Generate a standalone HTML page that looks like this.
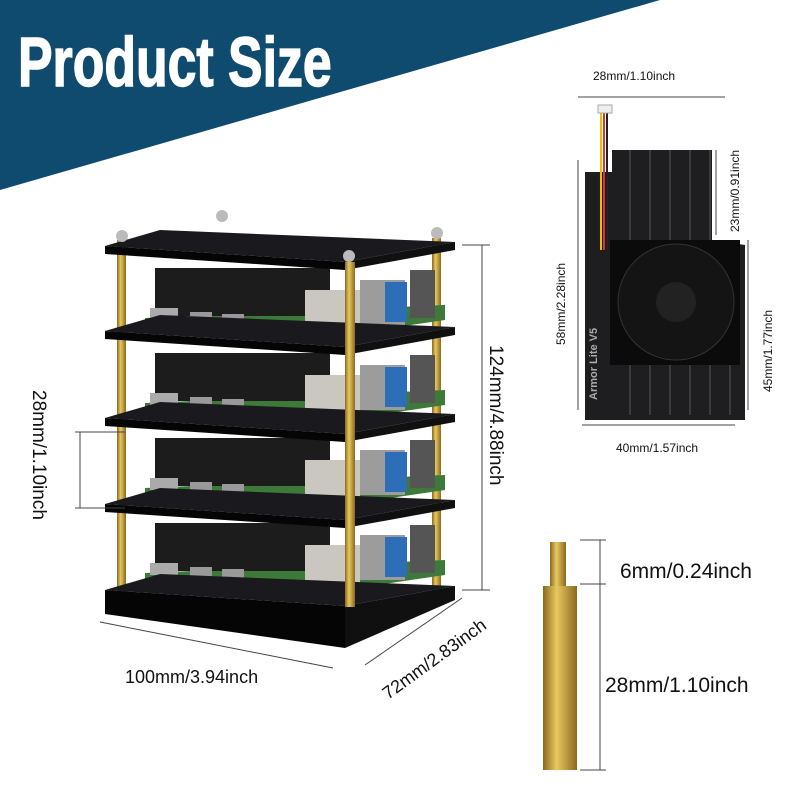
<!DOCTYPE html>
<html><head><meta charset="utf-8"><style>
html,body{margin:0;padding:0;background:#fff;}
svg{display:block;}
text{font-family:"Liberation Sans",sans-serif;}
</style></head><body>
<svg width="800" height="800" viewBox="0 0 800 800" xmlns="http://www.w3.org/2000/svg">
<defs>
<linearGradient id="brass" x1="0" x2="1"><stop offset="0" stop-color="#8a6a1c"/><stop offset="0.4" stop-color="#e8c860"/><stop offset="1" stop-color="#8a6a1c"/></linearGradient>
<g id="plate">
<polygon points="105,246 160,230 455,242 345,262" fill="#1a1a1e"/>
<polygon points="105,246 345,262 345,270 105,254" fill="#050505"/>
<polygon points="345,262 455,242 455,250 345,270" fill="#101010"/>
</g>
<g id="board">
<polygon points="145,318 445,305 445,320 350,334 145,326" fill="#3d7a3a"/>
<rect x="155" y="268" width="175" height="48" fill="#1c1c1c"/>
<rect x="305" y="290" width="55" height="40" fill="#c9c7bf"/>
<rect x="360" y="280" width="45" height="45" fill="#9c9c9c"/>
<rect x="385" y="282" width="22" height="40" fill="#2e6db8"/>
<rect x="410" y="270" width="25" height="48" fill="#555"/>
<rect x="150" y="308" width="28" height="12" fill="#aaa"/>
<rect x="190" y="312" width="22" height="10" fill="#999"/>
<rect x="222" y="314" width="22" height="10" fill="#999"/>
</g>
</defs>
<polygon points="0,0 660,0 0,190" fill="#0f4b6f"/>
<text x="18" y="86" font-size="70" font-weight="bold" fill="#fff" stroke="#fff" stroke-width="1.5" transform="translate(18,0) scale(0.74,1) translate(-18,0)">Product Size</text>

<rect x="117" y="240" width="9" height="355" fill="url(#brass)"/>
<rect x="432" y="238" width="9" height="355" fill="url(#brass)"/>
<use href="#board"/>
<use href="#board" transform="translate(0,85)"/>
<use href="#board" transform="translate(0,170)"/>
<use href="#board" transform="translate(0,255)"/>
<use href="#plate"/>
<use href="#plate" transform="translate(0,85)"/>
<use href="#plate" transform="translate(0,172)"/>
<use href="#plate" transform="translate(0,258)"/>
<polygon points="105,590 160,574 455,586 345,606" fill="#1a1a1e"/>
<polygon points="105,590 345,606 345,648 105,614" fill="#050505"/>
<polygon points="345,606 455,586 455,600 345,648" fill="#101010"/>
<rect x="345" y="262" width="10" height="345" fill="url(#brass)"/>
<circle cx="122" cy="236" r="6" fill="#bbb"/><circle cx="437" cy="233" r="6" fill="#bbb"/>
<circle cx="349" cy="256" r="6" fill="#bbb"/><circle cx="222" cy="216" r="6" fill="#bbb"/>

<g stroke="#444" stroke-width="1" fill="none">
<line x1="462" y1="245" x2="490" y2="245"/><line x1="462" y1="590" x2="490" y2="590"/><line x1="482" y1="245" x2="482" y2="590"/>
<line x1="75" y1="432" x2="125" y2="432"/><line x1="75" y1="508" x2="125" y2="508"/><line x1="80" y1="432" x2="80" y2="508"/>
<line x1="100" y1="622" x2="333" y2="668"/><line x1="365" y1="665" x2="462" y2="598"/>
<line x1="578" y1="97" x2="725" y2="97"/>
<line x1="582" y1="425" x2="735" y2="425"/>
<line x1="716" y1="150" x2="716" y2="235"/><line x1="578" y1="160" x2="578" y2="410"/><line x1="748" y1="240" x2="748" y2="410"/>
<line x1="580" y1="540" x2="606" y2="540"/><line x1="580" y1="584" x2="606" y2="584"/><line x1="580" y1="770" x2="606" y2="770"/><line x1="600" y1="540" x2="600" y2="770"/>
</g>
<text x="490" y="345" font-size="19" fill="#111" transform="rotate(90 490 345)">124mm/4.88inch</text>
<text x="33" y="390" font-size="19" fill="#111" transform="rotate(90 33 390)">28mm/1.10inch</text>
<text x="125" y="683" font-size="18" fill="#111">100mm/3.94inch</text>
<text x="388" y="700" font-size="18" fill="#111" transform="rotate(-36 388 700)">72mm/2.83inch</text>
<text x="593" y="80" font-size="12" fill="#111">28mm/1.10inch</text>
<text x="616" y="452" font-size="12" fill="#111">40mm/1.57inch</text>
<text x="739" y="232" font-size="12" fill="#111" transform="rotate(-90 739 232)">23mm/0.91inch</text>
<text x="565" y="345" font-size="12" fill="#111" transform="rotate(-90 565 345)">58mm/2.28inch</text>
<text x="772" y="392" font-size="12" fill="#111" transform="rotate(-90 772 392)">45mm/1.77inch</text>
<text x="620" y="578" font-size="21" fill="#111">6mm/0.24inch</text>
<text x="605" y="692" font-size="21" fill="#111">28mm/1.10inch</text>

<polygon points="612,150 712,150 712,240 745,245 745,420 585,420 585,172 612,172" fill="#1e1e20"/>
<g stroke="#3a3a3c" stroke-width="2">
<line x1="630" y1="150" x2="630" y2="415"/><line x1="650" y1="150" x2="650" y2="415"/><line x1="670" y1="150" x2="670" y2="415"/><line x1="690" y1="150" x2="690" y2="415"/><line x1="710" y1="150" x2="710" y2="415"/><line x1="730" y1="245" x2="730" y2="415"/>
</g>
<rect x="610" y="240" width="130" height="125" fill="#0b0b0b"/>
<circle cx="676" cy="302" r="58" fill="#141414" stroke="#333"/>
<circle cx="676" cy="302" r="20" fill="#222"/>
<text x="597" y="400" font-size="11" font-weight="bold" fill="#aaa" transform="rotate(-90 597 400)">Armor Lite V5</text>
<path d="M604,110 L604,250" stroke="#d33" stroke-width="2"/><path d="M607,110 L607,250" stroke="#222" stroke-width="2"/><path d="M601,110 L601,250" stroke="#e7c400" stroke-width="2"/>
<rect x="598" y="105" width="14" height="8" fill="#eee" stroke="#aaa"/>

<rect x="550" y="542" width="16" height="44" fill="url(#brass)"/>
<rect x="543" y="586" width="34" height="184" fill="url(#brass)"/>
</svg>
</body></html>
